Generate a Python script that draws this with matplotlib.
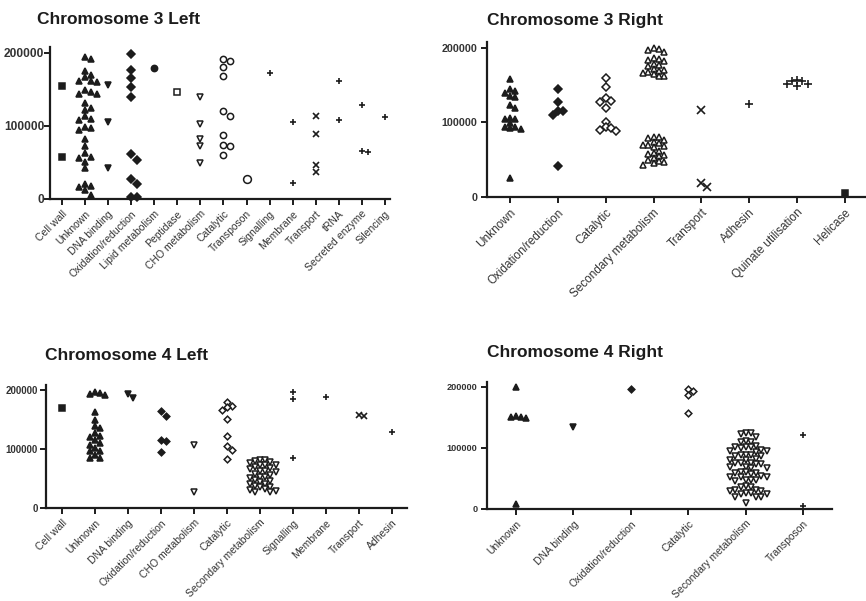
import matplotlib.pyplot as plt

plt.rcParams["font.family"] = ["Liberation Sans", "DejaVu Sans"]

INK = "#1c1c1c"
W, H = 866, 601

# =============================
# DATA (gene position, bp from chromosome end)
# =============================
# Chromosome 3 Left
c3l_cats = ["Cell wall", "Unknown", "DNA binding", "Oxidation/reduction",
            "Lipid metabolism", "Peptidase", "CHO metabolism", "Catalytic",
            "Transposon", "Signalling", "Membrane", "Transport", "tRNA",
            "Secreted enzyme", "Silencing"]
c3l_cell_wall = [154000, 57000]
c3l_unknown = [194000, 192000, 175000, 170000, 167000, 162000, 162000, 160000,
               149000, 146000, 144000, 143000, 131000, 124000, 122000, 113000,
               110000, 108000, 98000, 97000, 95000, 82000, 72000, 63000,
               58000, 56000, 51000, 43000, 21000, 18000, 16000, 12000, 5000]
c3l_dna = [156000, 106000, 42000]
c3l_oxred = [198000, 177000, 166000, 153000, 140000, 61000, 54000, 27000,
             21000, 3000, 3000]
c3l_lipid = [179000]
c3l_peptidase = [147000]
c3l_cho = [140000, 102000, 82000, 72000, 49000]
c3l_catalytic = [192000, 189000, 180000, 168000, 120000, 114000, 87000,
                 74000, 73000, 60000]
c3l_transposon = [28000]
c3l_signalling = [172000]
c3l_membrane = [105000, 21500]
c3l_transport = [114000, 89000, 47000, 37000]
c3l_trna = [162000, 108000]
c3l_secreted = [128000, 66000, 64000]
c3l_silencing = [112000]

# Chromosome 3 Right
c3r_cats = ["Unknown", "Oxidation/reduction", "Catalytic",
            "Secondary metabolism", "Transport", "Adhesin",
            "Quinate utilisation", "Helicase"]
c3r_unknown = [158000, 145000, 142000, 139000, 135000, 134000, 124000, 120000,
               106000, 104000, 104000, 99000, 94000, 94000, 92000, 91000, 26000]
c3r_oxred = [145000, 127000, 115000, 115000, 110000, 41000]
c3r_catalytic = [160000, 147000, 133000, 129000, 128000, 119000, 101000,
                 94000, 93000, 90000, 89000]
c3r_secondary = [200000, 198000, 197000, 195000, 187000, 185000, 184000,
                 183000, 179000, 177000, 176000, 172000, 171000, 169000,
                 168000, 166000, 165000, 163000, 162000,
                 81000, 80000, 79000, 76000, 74000, 72000, 70000, 70000,
                 69000, 67000, 62000, 59000, 58000, 57000, 55000, 52000,
                 49000, 48000, 47000, 45000, 43000]
c3r_transport = [117000, 19000, 13000]
c3r_adhesin = [125000]
c3r_quinate = [157000, 156000, 155000, 152000, 152000, 149000]
c3r_helicase = [5000]

# Chromosome 4 Left
c4l_cats = ["Cell wall", "Unknown", "DNA binding", "Oxidation/reduction",
            "CHO metabolism", "Catalytic", "Secondary metabolism",
            "Signalling", "Membrane", "Transport", "Adhesin"]
c4l_cell_wall = [169000]
c4l_unknown = [197000, 195000, 193000, 191000, 162000, 149000, 138000, 135000,
               127000, 121000, 120000, 115000, 110000, 107000, 101000, 97000,
               97000, 90000, 84000, 84000]
c4l_dna = [193000, 186000]
c4l_oxred = [164000, 156000, 115000, 114000, 94000]
c4l_cho = [107000, 27000]
c4l_catalytic = [180000, 173000, 171000, 166000, 151000, 121000, 105000,
                 98000, 83000]
c4l_secondary = [82000, 81000, 80000, 77000, 76000, 73000, 72000, 72000,
                 69000, 67000, 66000, 63000, 62000, 61000, 58000, 56000,
                 53000, 52000, 51000, 47000, 46000, 44000, 41000, 40000,
                 37000, 36000, 35000, 32000, 30000, 29000, 27000, 27000]
c4l_signalling = [197000, 185000, 85000]
c4l_membrane = [188000]
c4l_transport = [157000, 156000]
c4l_adhesin = [129000]

# Chromosome 4 Right
c4r_cats = ["Unknown", "DNA binding", "Oxidation/reduction", "Catalytic",
            "Secondary metabolism", "Transposon"]
c4r_unknown = [199000, 152000, 151000, 150000, 149000, 8000]
c4r_dna = [135000]
c4r_oxred = [196000]
c4r_catalytic = [196000, 194000, 187000, 158000]
c4r_secondary = [125000, 124000, 123000, 118000, 111000, 110000, 109000,
                 103000, 102000, 102000, 101000, 100000, 96000, 95000, 95000,
                 94000, 89000, 88000, 88000, 87000, 86000, 82000, 81000,
                 80000, 76000, 75000, 75000, 74000, 73000, 69000, 68000,
                 67000, 67000, 61000, 60000, 59000, 59000, 58000, 54000,
                 53000, 52000, 52000, 48000, 47000, 47000, 46000, 37000,
                 36000, 36000, 31000, 31000, 30000, 30000, 26000, 26000,
                 25000, 25000, 20000, 20000, 19000, 10000]
c4r_transposon = [121000, 5000]

# =============================
# MARKER STYLES  (marker, filled)
# =============================
c3l_style = [("s", True), ("^", True), ("v", True), ("D", True), ("o", True),
             ("s", False), ("v", False), ("o", False), ("O", False),
             ("+", True), ("+", True), ("x", True), ("+", True), ("+", True),
             ("+", True)]
c3r_style = [("^", True), ("D", True), ("D", False), ("^", False),
             ("x", True), ("+", True), ("+", True), ("s", True)]
c4l_style = [("s", True), ("^", True), ("v", True), ("D", True),
             ("v", False), ("D", False), ("v", False), ("+", True),
             ("+", True), ("x", True), ("+", True)]
c4r_style = [("^", True), ("v", True), ("D", True), ("D", False),
             ("v", False), ("+", True)]

fig = plt.figure(figsize=(W / 100, H / 100), dpi=100)


def swarm(ax, vals, step):
    # simple beeswarm: shift points sideways until they stop overlapping
    x0, x1 = ax.get_xlim()
    y0, y1 = ax.get_ylim()
    px_x = ax.bbox.width / (x1 - x0)
    px_y = ax.bbox.height / (y1 - y0)
    placed, offs = [], []
    for v in vals:
        yp = v * px_y
        for k in [0, 1, -1, 2, -2, 3, -3, 4, -4, 5, -5, 6, -6]:
            xp = k * step
            if all(abs(xp - a) >= step * 0.95 or abs(yp - b) >= step * 0.95
                   for a, b in placed):
                break
        placed.append((xp, yp))
        offs.append(xp / px_x)
    return offs


def panel(box, xlim, title, title_xy, cats, groups, styles, ms, xfs, yfs,
          ypad, spread):
    l, r, t, b = box
    ax = fig.add_axes([l / W, 1 - b / H, (r - l) / W, (b - t) / H])
    ax.set_xlim(*xlim)
    ax.set_ylim(0, 208000)
    step = ms * spread
    for i, (vals, (mk, filled)) in enumerate(zip(groups, styles)):
        offs = swarm(ax, vals, step)
        xs = [i + o for o in offs]
        size = ms
        if mk == "O":
            mk, size = "o", ms * 1.25
        if mk == "D":
            size = ms * 0.85
        if mk in "+x":
            ax.plot(xs, vals, ls="none", marker=mk, ms=size * 1.1,
                    mew=1.2, color=INK, clip_on=False)
        else:
            ax.plot(xs, vals, ls="none", marker=mk, ms=size,
                    mfc=INK if filled else "white", mec=INK, mew=1.1,
                    clip_on=False)
    for side in ["top", "right"]:
        ax.spines[side].set_visible(False)
    for side in ["left", "bottom"]:
        ax.spines[side].set_linewidth(1.6)
        ax.spines[side].set_color(INK)
    ax.set_yticks([0, 100000, 200000])
    ax.set_yticklabels(["0", "100000", "200000"], fontsize=yfs,
                       color="#333333", fontweight="bold")
    ax.set_xticks(range(len(cats)))
    ax.set_xticklabels(cats, rotation=45, ha="right", rotation_mode="anchor",
                       fontsize=xfs, color="#333333")
    ax.tick_params(axis="both", length=4, width=1.4, color=INK, pad=3)
    ax.tick_params(axis="y", pad=ypad)
    fig.text(title_xy[0] / W, 1 - title_xy[1] / H, title, fontsize=12.5,
             fontweight="bold", color=INK, ha="left", va="center")
    return ax


panel((50, 390, 47, 199), (-0.52, 14.22), "Chromosome 3 Left", (37, 20),
      c3l_cats,
      [c3l_cell_wall, c3l_unknown, c3l_dna, c3l_oxred, c3l_lipid,
       c3l_peptidase, c3l_cho, c3l_catalytic, c3l_transposon, c3l_signalling,
       c3l_membrane, c3l_transport, c3l_trna, c3l_secreted, c3l_silencing],
      c3l_style, 4.5, 7.5, 8.6, 0, 1.35)

panel((487, 866, 42, 197), (-0.48, 7.44), "Chromosome 3 Right", (487, 20),
      c3r_cats,
      [c3r_unknown, c3r_oxred, c3r_catalytic, c3r_secondary, c3r_transport,
       c3r_adhesin, c3r_quinate, c3r_helicase],
      c3r_style, 4.8, 8.5, 7.7, 3, 1.1)

panel((46, 407, 385, 508), (-0.48, 10.45), "Chromosome 4 Left", (45, 355),
      c4l_cats,
      [c4l_cell_wall, c4l_unknown, c4l_dna, c4l_oxred, c4l_cho,
       c4l_catalytic, c4l_secondary, c4l_signalling, c4l_membrane,
       c4l_transport, c4l_adhesin],
      c4l_style, 4.0, 7.5, 7.0, 2, 1.3)

panel((487, 832, 382, 509), (-0.5, 5.5), "Chromosome 4 Right", (487, 353),
      c4r_cats,
      [c4r_unknown, c4r_dna, c4r_oxred, c4r_catalytic, c4r_secondary,
       c4r_transposon],
      c4r_style, 4.0, 7.5, 6.6, 3, 1.3)

fig.savefig("out.png", dpi=100)
